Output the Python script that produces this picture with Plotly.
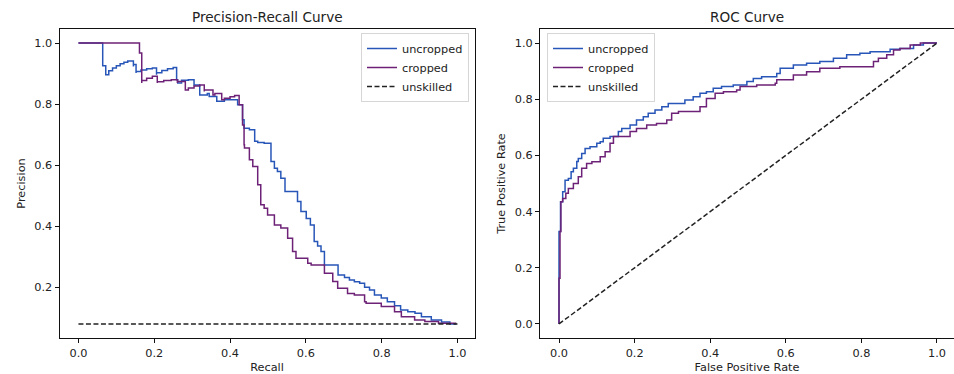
import plotly.graph_objects as go

# ---------------- data ----------------
pr_uncropped_recall = [0.0, 0.064, 0.064, 0.072, 0.080, 0.090, 0.100, 0.110, 0.120, 0.130, 0.145, 0.145, 0.152,
                       0.152, 0.165, 0.180, 0.195, 0.206, 0.206, 0.220, 0.235, 0.250, 0.259, 0.262, 0.272,
                       0.290, 0.305, 0.310, 0.320, 0.340, 0.345, 0.365, 0.385, 0.400, 0.420, 0.433, 0.437, 0.451,
                       0.465, 0.473, 0.490, 0.508, 0.517, 0.525, 0.534, 0.545, 0.556, 0.578, 0.587, 0.601, 0.612,
                       0.622, 0.631, 0.640, 0.649, 0.667, 0.685, 0.702, 0.715, 0.728, 0.742, 0.755, 0.768, 0.781,
                       0.799, 0.815, 0.834, 0.850, 0.869, 0.888, 0.905, 0.931, 0.958, 0.980, 0.997]
pr_uncropped_precision = [1.0, 1.0, 0.934, 0.926, 0.896, 0.909, 0.918, 0.926, 0.932, 0.937, 0.941, 0.923, 0.930,
                          0.902, 0.907, 0.912, 0.916, 0.918, 0.896, 0.903, 0.910, 0.916, 0.920, 0.880, 0.869,
                          0.878, 0.880, 0.863, 0.863, 0.830, 0.835, 0.825, 0.809, 0.814, 0.814, 0.798, 0.749, 0.721,
                          0.716, 0.678, 0.674, 0.672, 0.612, 0.590, 0.579, 0.557, 0.514, 0.514, 0.481, 0.448, 0.425,
                          0.404, 0.350, 0.335, 0.317, 0.273, 0.273, 0.240, 0.232, 0.224, 0.218, 0.213, 0.200, 0.191,
                          0.175, 0.165, 0.153, 0.140, 0.126, 0.120, 0.115, 0.104, 0.093, 0.086, 0.080]

pr_cropped_recall = [0.0, 0.161, 0.161, 0.167, 0.167, 0.180, 0.195, 0.208, 0.208, 0.225, 0.245, 0.261, 0.261,
                     0.282, 0.290, 0.305, 0.320, 0.332, 0.332, 0.355, 0.360, 0.378, 0.385, 0.400, 0.412, 0.424,
                     0.433, 0.437, 0.438, 0.451, 0.460, 0.473, 0.481, 0.490, 0.499, 0.517, 0.534, 0.552, 0.565,
                     0.574, 0.605, 0.614, 0.649, 0.671, 0.684, 0.710, 0.728, 0.755, 0.759, 0.799, 0.834, 0.852,
                     0.887, 0.914, 0.950, 0.997]
pr_cropped_precision = [1.0, 1.0, 0.967, 0.967, 0.869, 0.877, 0.885, 0.891, 0.869, 0.873, 0.877, 0.880, 0.869,
                        0.874, 0.846, 0.853, 0.859, 0.863, 0.841, 0.846, 0.830, 0.835, 0.814, 0.819, 0.824, 0.828,
                        0.798, 0.732, 0.667, 0.656, 0.618, 0.596, 0.536, 0.470, 0.459, 0.437, 0.404, 0.394, 0.361,
                        0.317, 0.295, 0.279, 0.273, 0.246, 0.219, 0.197, 0.180, 0.175, 0.153, 0.148, 0.137, 0.120,
                        0.104, 0.093, 0.088, 0.082]

unskilled_precision = 0.08

roc_uncropped_fpr = [0.0, 0.004, 0.0097, 0.016, 0.0247, 0.032, 0.038, 0.047, 0.051, 0.060, 0.069, 0.082, 0.100, 0.109,
                     0.117, 0.135, 0.157, 0.166, 0.188, 0.205, 0.223, 0.236, 0.254, 0.272, 0.289, 0.311, 0.333,
                     0.355, 0.373, 0.390, 0.408, 0.430, 0.461, 0.497, 0.514, 0.536, 0.576, 0.585, 0.620, 0.655,
                     0.690, 0.726, 0.761, 0.796, 0.823, 0.876, 0.902, 0.938, 0.964, 1.0]
roc_uncropped_tpr = [0.0, 0.329, 0.435, 0.471, 0.512, 0.518, 0.542, 0.554, 0.578, 0.589, 0.607, 0.625, 0.631, 0.643,
                     0.649, 0.661, 0.667, 0.685, 0.696, 0.708, 0.726, 0.738, 0.750, 0.762, 0.773, 0.785, 0.785,
                     0.797, 0.809, 0.821, 0.827, 0.839, 0.845, 0.851, 0.863, 0.874, 0.880, 0.892, 0.910, 0.922,
                     0.928, 0.934, 0.946, 0.958, 0.964, 0.969, 0.978, 0.981, 0.993, 1.0]

roc_cropped_fpr = [0.0, 0.0026, 0.005, 0.0097, 0.018, 0.0247, 0.038, 0.051, 0.060, 0.073, 0.087, 0.109, 0.122, 0.135,
                   0.144, 0.162, 0.188, 0.205, 0.232, 0.258, 0.285, 0.298, 0.316, 0.338, 0.373, 0.390, 0.413,
                   0.435, 0.470, 0.479, 0.523, 0.572, 0.576, 0.620, 0.655, 0.690, 0.743, 0.832, 0.845, 0.867,
                   0.885, 0.902, 0.929, 0.956, 1.0]
roc_cropped_tpr = [0.0, 0.163, 0.329, 0.435, 0.447, 0.465, 0.482, 0.500, 0.524, 0.554, 0.571, 0.577, 0.595, 0.613,
                   0.643, 0.667, 0.667, 0.685, 0.696, 0.708, 0.714, 0.726, 0.750, 0.756, 0.756, 0.773, 0.803,
                   0.821, 0.827, 0.833, 0.845, 0.851, 0.857, 0.869, 0.886, 0.898, 0.910, 0.916, 0.934, 0.946,
                   0.958, 0.975, 0.981, 0.993, 1.0]

series_names = ["uncropped", "cropped", "unskilled"]
tick_vals = [0.0, 0.2, 0.4, 0.6, 0.8, 1.0]

# ---------------- styles ----------------
BLUE = "#2856b8"
PURPLE = "#6d2277"
BLACK = "#222222"
FONT = "DejaVu Sans"
W, H = 954, 374

fig = go.Figure()

# Precision-Recall
fig.add_trace(go.Scatter(x=pr_uncropped_recall, y=pr_uncropped_precision, mode="lines", name=series_names[0],
                         line=dict(color=BLUE, width=1.5, shape="vh"), xaxis="x", yaxis="y", legend="legend"))
fig.add_trace(go.Scatter(x=pr_cropped_recall, y=pr_cropped_precision, mode="lines", name=series_names[1],
                         line=dict(color=PURPLE, width=1.5, shape="vh"), xaxis="x", yaxis="y", legend="legend"))
fig.add_trace(go.Scatter(x=[0, 1], y=[unskilled_precision, unskilled_precision], mode="lines", name=series_names[2],
                         line=dict(color=BLACK, width=1.5, dash="5px,2.5px"), xaxis="x", yaxis="y", legend="legend"))

# ROC
fig.add_trace(go.Scatter(x=roc_uncropped_fpr, y=roc_uncropped_tpr, mode="lines", name=series_names[0],
                         line=dict(color=BLUE, width=1.5, shape="vh"), xaxis="x2", yaxis="y2", legend="legend2"))
fig.add_trace(go.Scatter(x=roc_cropped_fpr, y=roc_cropped_tpr, mode="lines", name=series_names[1],
                         line=dict(color=PURPLE, width=1.5, shape="vh"), xaxis="x2", yaxis="y2", legend="legend2"))
fig.add_trace(go.Scatter(x=[0, 1], y=[0, 1], mode="lines", name=series_names[2],
                         line=dict(color=BLACK, width=1.5, dash="5px,2.5px"), xaxis="x2", yaxis="y2", legend="legend2"))

ydom = [(H - 338) / H, (H - 29) / H]

axis_common = dict(showgrid=False, zeroline=False, showline=True, mirror=True, linecolor="#111111", linewidth=1,
                   ticks="outside", ticklen=4, tickwidth=1, tickcolor="#111111",
                   tickformat=".1f", tickfont=dict(family=FONT, size=11.3, color=BLACK),
                   title_font=dict(family=FONT, size=11.3, color=BLACK))

legend_common = dict(font=dict(family=FONT, size=11.3, color=BLACK), bgcolor="rgba(255,255,255,0.8)",
                     bordercolor="#d6d6d6", borderwidth=1, yanchor="top", tracegroupgap=0, itemwidth=30)

fig.update_layout(
    width=W, height=H,
    margin=dict(l=0, r=0, t=0, b=0),
    paper_bgcolor="white", plot_bgcolor="white",
    font=dict(family=FONT, color=BLACK),
    xaxis=dict(domain=[59.5 / W, 474.5 / W], range=[-0.05, 1.045], anchor="y", tickvals=tick_vals,
               title=dict(text="Recall", standoff=5), **axis_common),
    yaxis=dict(domain=ydom, range=[0.034, 1.046], anchor="x", tickvals=tick_vals[1:],
               title=dict(text="Precision", standoff=6), **axis_common),
    xaxis2=dict(domain=[540 / W, 1.0], range=[-0.0503, 1.045], anchor="y2", tickvals=tick_vals,
                title=dict(text="False Positive Rate", standoff=4), **axis_common),
    yaxis2=dict(domain=ydom, range=[-0.05, 1.05], anchor="x2", tickvals=tick_vals,
                title=dict(text="True Positive Rate", standoff=6), **axis_common),
    legend=dict(x=469 / W, xanchor="right", y=(H - 33) / H, **legend_common),
    legend2=dict(x=547 / W, xanchor="left", y=(H - 33) / H, **legend_common),
    annotations=[
        dict(text="Precision-Recall Curve", x=(59.5 + 474.5) / 2 / W, y=(H - 17) / H, xref="paper", yref="paper",
             showarrow=False, font=dict(family=FONT, size=13.6, color=BLACK), xanchor="center", yanchor="middle"),
        dict(text="ROC Curve", x=(540 + 954) / 2 / W, y=(H - 17) / H, xref="paper", yref="paper",
             showarrow=False, font=dict(family=FONT, size=13.6, color=BLACK), xanchor="center", yanchor="middle"),
    ],
)

fig.write_html("out.html")
